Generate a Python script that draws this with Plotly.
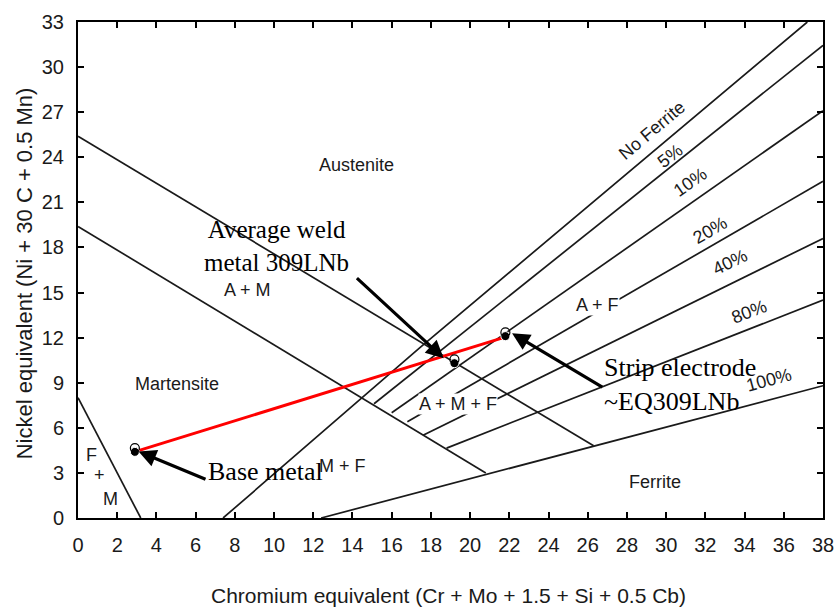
import plotly.graph_objects as go

# ---- axis ticks ----
x_ticks = list(range(0, 39, 2))
y_ticks = list(range(0, 34, 3))

# ---- diagram boundary lines (Cr_eq, Ni_eq) ----
fm_x = [0, 3.2];            fm_y = [8.0, 0]
am_upper_x = [0, 26.3];     am_upper_y = [25.4, 4.8]
am_lower_x = [0, 20.8];     am_lower_y = [19.4, 3.0]
noferrite_x = [7.4, 17.5, 37.2]; noferrite_y = [0, 11.4, 33.0]
f5_x = [15.1, 38];   f5_y = [7.6, 31.45]
f10_x = [16.0, 38];  f10_y = [7.0, 27.1]
f20_x = [16.8, 38];  f20_y = [6.4, 22.4]
f40_x = [17.6, 38];  f40_y = [5.5, 18.6]
f80_x = [18.8, 38];  f80_y = [4.65, 14.5]
f100_x = [12.4, 38]; f100_y = [0, 8.8]

# ---- measured compositions ----
point_names = ["Base metal", "Average weld metal 309LNb", "Strip electrode ~EQ309LNb"]
point_x = [2.9, 19.2, 21.8]
point_y = [4.4, 10.3, 12.1]
dilution_x = [3.0, 21.7]
dilution_y = [4.45, 12.0]

fig = go.Figure()

line_style = dict(color="#1a1a1a", width=1.7)
for xs, ys in [(fm_x, fm_y), (am_upper_x, am_upper_y), (am_lower_x, am_lower_y),
               (noferrite_x, noferrite_y), (f5_x, f5_y), (f10_x, f10_y),
               (f20_x, f20_y), (f40_x, f40_y), (f80_x, f80_y), (f100_x, f100_y)]:
    fig.add_trace(go.Scatter(x=xs, y=ys, mode="lines", line=line_style,
                             showlegend=False, hoverinfo="skip"))

fig.add_trace(go.Scatter(x=dilution_x, y=dilution_y, mode="lines",
                         line=dict(color="#ff0000", width=3), showlegend=False))
fig.add_trace(go.Scatter(x=point_x, y=point_y, mode="markers",
                         marker=dict(symbol="circle", size=9, color="black",
                                     line=dict(color="white", width=1)),
                         showlegend=False, text=point_names))
fig.add_trace(go.Scatter(x=point_x, y=[v + 0.25 for v in point_y], mode="markers",
                         marker=dict(symbol="circle-open", size=9, color="black",
                                     line=dict(width=1.2)),
                         showlegend=False, hoverinfo="skip"))

sans = "Liberation Sans, Arial, sans-serif"
serif = "Liberation Serif, Times New Roman, serif"

def lab(x, y, t, size=18, angle=0, bg=None):
    d = dict(x=x, y=y, xref="x", yref="y", text=t, showarrow=False,
             xanchor="center", yanchor="middle",
             font=dict(family=sans, size=size, color="#1a1a1a"), textangle=angle)
    if bg:
        d["bgcolor"] = bg
        d["borderpad"] = 0
    fig.add_annotation(**d)

lab(14.19, 23.5, "Austenite")
lab(8.66, 15.2, "A + M")
lab(5.05, 8.92, "Martensite")
lab(0.68, 4.21, "F")
lab(1.10, 2.88, "+")
lab(1.65, 1.26, "M")
lab(13.47, 3.43, "M + F")
lab(19.38, 7.59, "A + M + F", bg="white")
lab(26.52, 14.17, "A + F", bg="white")
lab(29.45, 2.38, "Ferrite")
lab(29.3, 25.8, "No Ferrite", angle=-40)
lab(30.2, 24.1, "5%", angle=-38)
lab(31.24, 22.37, "10%", angle=-35)
lab(32.26, 19.16, "20%", angle=-30)
lab(33.28, 17.05, "40%", angle=-26)
lab(34.21, 13.73, "80%", angle=-21)
lab(35.23, 9.19, "100%", angle=-15)

# serif call-outs
fig.add_annotation(x=10.12, y=18.1, xref="x", yref="y", showarrow=False,
                   xanchor="center", yanchor="middle",
                   text="Average weld<br>metal 309LNb", align="center",
                   font=dict(family=serif, size=25, color="black"))
fig.add_annotation(x=9.58, y=3.1, xref="x", yref="y", showarrow=False,
                   xanchor="center", yanchor="middle",
                   text="Base metal", font=dict(family=serif, size=26, color="black"))
fig.add_annotation(x=26.73, y=8.86, xref="x", yref="y", showarrow=False,
                   xanchor="left", yanchor="middle",
                   text="Strip electrode<br>~EQ309LNb", align="left",
                   font=dict(family=serif, size=26, color="black"))

# arrows
for tip, tail in [((18.65, 10.63), (14.15, 16.05)),
                  ((22.14, 12.29), (26.82, 8.64)),
                  ((3.09, 4.43), (6.58, 2.54))]:
    fig.add_annotation(x=tip[0], y=tip[1], ax=tail[0], ay=tail[1],
                       xref="x", yref="y", axref="x", ayref="y", text="",
                       showarrow=True, arrowhead=2, arrowsize=1.1, arrowwidth=3.2,
                       arrowcolor="black")

# axis titles
fig.add_annotation(x=0.497, y=-0.1565, xref="paper", yref="paper", showarrow=False,
                   xanchor="center", yanchor="middle",
                   text="Chromium equivalent (Cr + Mo + 1.5 + Si + 0.5 Cb)",
                   font=dict(family=sans, size=21, color="#1a1a1a"))
fig.add_annotation(x=-0.0707, y=0.494, xref="paper", yref="paper", showarrow=False,
                   xanchor="center", yanchor="middle",
                   text="Nickel equivalent (Ni + 30 C + 0.5 Mn)", textangle=-90,
                   font=dict(family=sans, size=22, color="#1a1a1a"))

axis_common = dict(showline=True, linecolor="black", linewidth=2, mirror="ticks",
                   ticks="inside", ticklen=6, tickwidth=1.5, tickcolor="black",
                   showgrid=False, zeroline=False,
                   tickfont=dict(family=sans, size=20, color="#1a1a1a"))
fig.update_xaxes(range=[0, 38], tickvals=x_ticks, ticklabelstandoff=8, **axis_common)
fig.update_yaxes(range=[0, 33], tickvals=y_ticks, ticklabelstandoff=8, **axis_common)

fig.update_layout(width=836, height=607, plot_bgcolor="white", paper_bgcolor="white",
                  margin=dict(l=78, r=13, t=22, b=89, autoexpand=False),
                  showlegend=False)

fig.write_html("out.html", config={"displayModeBar": False},
               post_script="document.body.style.margin='0';"
                           "document.body.style.overflow='hidden';")
